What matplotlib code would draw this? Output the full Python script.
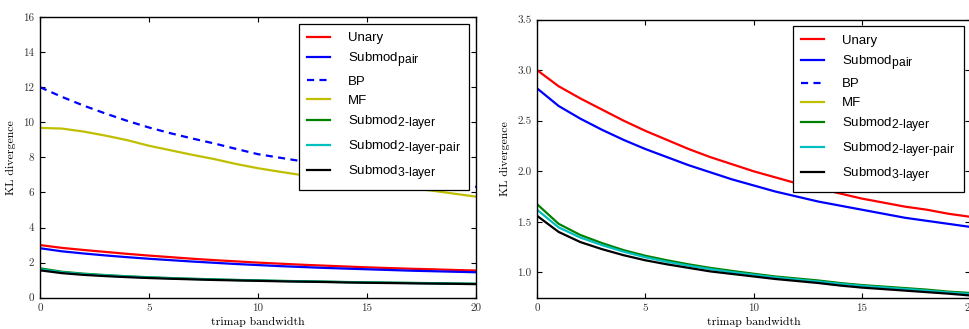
import numpy as np
import matplotlib
matplotlib.use("Agg")
import matplotlib.pyplot as plt
import matplotlib._mathtext as mathtext_internal

# KL divergence vs trimap bandwidth (same data, two y-ranges)
bandwidth = np.arange(0, 21)

unary = [3.00, 2.84, 2.72, 2.61, 2.50, 2.40, 2.31, 2.22, 2.14, 2.07, 2.00,
         1.94, 1.88, 1.83, 1.78, 1.73, 1.69, 1.65, 1.62, 1.58, 1.55]
submod_pair = [2.82, 2.645, 2.52, 2.41, 2.31, 2.22, 2.14, 2.06, 1.99, 1.92, 1.86,
               1.80, 1.75, 1.70, 1.66, 1.62, 1.58, 1.54, 1.51, 1.48, 1.45]
bp = [12.0, 11.45, 10.95, 10.5, 10.08, 9.7, 9.37, 9.07, 8.79, 8.48, 8.18,
      7.98, 7.78, 7.58, 7.39, 7.2, 7.02, 6.84, 6.66, 6.49, 6.32]
mf = [9.68, 9.64, 9.47, 9.24, 8.98, 8.66, 8.40, 8.14, 7.90, 7.62, 7.38,
      7.18, 6.99, 6.82, 6.66, 6.51, 6.37, 6.23, 6.10, 5.93, 5.76]
submod_2layer = [1.675, 1.48, 1.37, 1.29, 1.22, 1.165, 1.12, 1.08, 1.045, 1.015, 0.987,
                 0.96, 0.94, 0.92, 0.895, 0.875, 0.86, 0.845, 0.83, 0.81, 0.797]
submod_2layer_pair = [1.62, 1.445, 1.345, 1.27, 1.205, 1.15, 1.105, 1.067, 1.033, 1.003, 0.977,
                      0.951, 0.93, 0.91, 0.887, 0.867, 0.851, 0.836, 0.82, 0.802, 0.787]
submod_3layer = [1.56, 1.40, 1.30, 1.23, 1.17, 1.12, 1.08, 1.045, 1.01, 0.985, 0.96,
                 0.935, 0.915, 0.895, 0.87, 0.85, 0.835, 0.82, 0.805, 0.79, 0.772]

series = [
    (unary, "r", "-", "Unary"),
    (submod_pair, "b", "-", r"Submod$_{\text{pair}}$"),
    (bp, "b", "--", "BP"),
    (mf, "y", "-", "MF"),
    (submod_2layer, "g", "-", r"Submod$_{\text{2-layer}}$"),
    (submod_2layer_pair, "c", "-", r"Submod$_{\text{2-layer-pair}}$"),
    (submod_3layer, "k", "-", r"Submod$_{\text{3-layer}}$"),
]

plt.rcParams["mathtext.fontset"] = "custom"
plt.rcParams["mathtext.rm"] = "Liberation Sans"
plt.rcParams["mathtext.it"] = "Liberation Sans:italic"
plt.rcParams["mathtext.bf"] = "Liberation Sans:bold"
plt.rcParams["axes.unicode_minus"] = False
# subscripts in the legend are nearly full size
mathtext_internal.SHRINK_FACTOR = 0.92

fig = plt.figure(figsize=(9.69, 3.29), dpi=100)
ax1 = fig.add_axes([40 / 969, 31.3 / 329, 436 / 969, 280.7 / 329])
ax2 = fig.add_axes([537 / 969, 31.3 / 329, 433 / 969, 278.2 / 329])

serif = "cmr10"


def setup(ax, ylim, yticks, ylabels):
    for vals, color, ls, label in series:
        ax.plot(bandwidth, vals, color=color, linestyle=ls, lw=1.6, label=label,
                dashes=(3.2, 2.4) if ls == "--" else (None, None))
    ax.set_xlim(0, 20)
    ax.set_ylim(*ylim)
    ax.set_xticks([0, 5, 10, 15, 20])
    ax.set_xticklabels(["0", "5", "10", "15", "20"], fontfamily=serif, fontsize=8,
                       color="#333333")
    ax.set_yticks(yticks)
    ax.set_yticklabels(ylabels, fontfamily=serif, fontsize=8, color="#333333")
    ax.tick_params(direction="in", top=True, right=True, length=3.5, width=0.8, pad=4)
    for sp in ax.spines.values():
        sp.set_linewidth(1.0)
    ax.set_xlabel("trimap bandwidth", fontfamily=serif, fontsize=8.5, labelpad=3)
    ax.set_ylabel("KL divergence", fontfamily=serif, fontsize=8.5, labelpad=5)
    leg = ax.legend(loc="upper right", bbox_to_anchor=(0.985, 0.976), borderaxespad=0,
                    prop={"family": "Liberation Sans", "size": 9.5},
                    fancybox=False, framealpha=1, edgecolor="black",
                    handlelength=1.7, handletextpad=1.4, labelspacing=0.5,
                    borderpad=0.62)
    leg.get_frame().set_linewidth(0.9)


setup(ax1, (0, 16), np.arange(0, 17, 2), [str(v) for v in range(0, 17, 2)])
setup(ax2, (0.75, 3.5), [1.0, 1.5, 2.0, 2.5, 3.0, 3.5],
      ["1.0", "1.5", "2.0", "2.5", "3.0", "3.5"])

fig.savefig("out.png", dpi=100)
